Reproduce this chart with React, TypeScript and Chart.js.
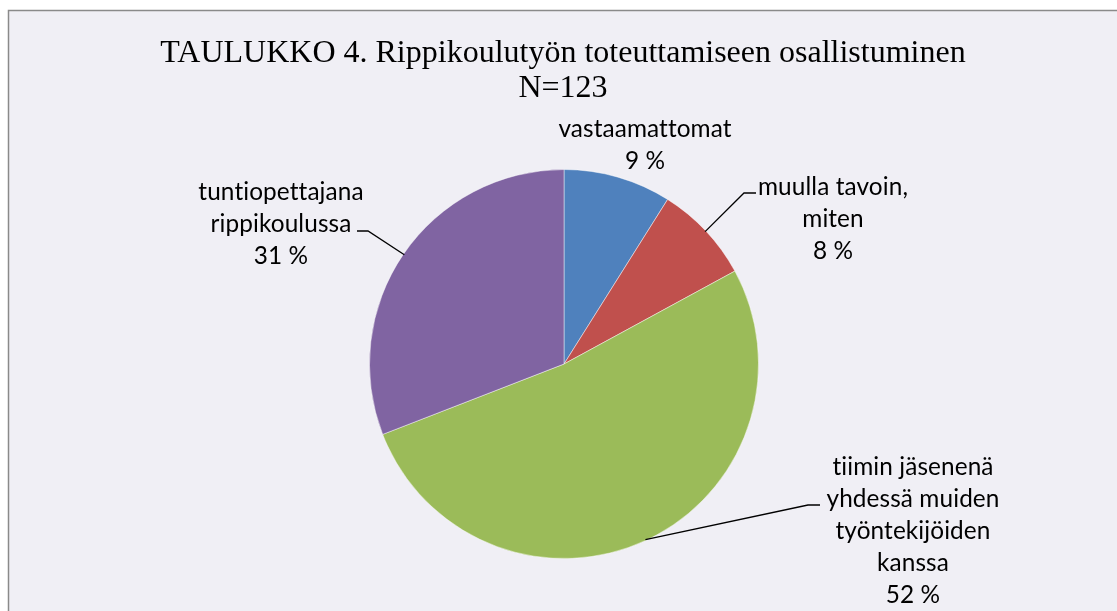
import React, { useEffect, useRef } from "react";
import { Chart, registerables } from "chart.js";

Chart.register(...registerables);

const titleLines = ["TAULUKKO 4. Rippikoulutyön toteuttamiseen osallistuminen", "N=123"];
const categories = [
  "vastaamattomat",
  "muulla tavoin, miten",
  "tiimin jäsenenä yhdessä muiden työntekijöiden kanssa",
  "tuntiopettajana rippikoulussa",
];
const counts = [11, 10, 64, 38];
const percentLabels = ["9 %", "8 %", "52 %", "31 %"];
const labelLines = [
  ["vastaamattomat"],
  ["muulla tavoin,", "miten"],
  ["tiimin jäsenenä", "yhdessä muiden", "työntekijöiden", "kanssa"],
  ["tuntiopettajana", "rippikoulussa"],
];
const colors = ["#4F81BD", "#C0504D", "#9BBB59", "#8064A2"];

// layout of the data labels (positions only)
const labelLayout = [
  { cx: 645, y0: 137, stub: null as null | number[] },
  { cx: 833, y0: 195, stub: [756, 193, 744, 193] },
  { cx: 913, y0: 475, stub: [820, 505, 808, 505] },
  { cx: 281, y0: 200, stub: [357, 231, 368, 231] },
];
const LINE_H = 32;

const W = 1117;
const H = 611;

const decorPlugin = {
  id: "decor",
  beforeDraw(chart: any) {
    const ctx = chart.ctx;
    ctx.save();
    ctx.fillStyle = "#ffffff";
    ctx.fillRect(0, 0, W, H);
    ctx.fillStyle = "#F0EFF5";
    ctx.fillRect(8, 10, W, H);
    ctx.strokeStyle = "#8a8a8a";
    ctx.lineWidth = 1.5;
    ctx.beginPath();
    ctx.moveTo(8.5, H + 5);
    ctx.lineTo(8.5, 10.5);
    ctx.lineTo(W + 5, 10.5);
    ctx.stroke();
    ctx.restore();
  },
  afterDraw(chart: any) {
    const ctx = chart.ctx;
    ctx.save();
    // title
    ctx.fillStyle = "#000000";
    ctx.textAlign = "center";
    ctx.textBaseline = "alphabetic";
    ctx.font = '32px "Liberation Serif", "Times New Roman", serif';
    ctx.fillText(titleLines[0], 563, 62);
    ctx.fillText(titleLines[1], 563, 97);

    // data labels (non-zero letter spacing switches off Lato's ligatures)
    try {
      (ctx as any).letterSpacing = "0.1px";
    } catch (e) {}
    ctx.font = '100px Lato, "Open Sans", sans-serif';
    const w100 = ctx.measureText("yhdessä muiden").width;
    const fs = (100 * 172) / w100;
    ctx.font = `${fs.toFixed(2)}px Lato, "Open Sans", sans-serif`;
    const meta = chart.getDatasetMeta(0);
    labelLayout.forEach((lay, i) => {
      const lines = [...labelLines[i], percentLabels[i]];
      ctx.fillStyle = "#000000";
      lines.forEach((ln, k) => {
        ctx.fillText(ln, lay.cx, lay.y0 + k * LINE_H);
      });
      if (lay.stub) {
        const arc = meta.data[i] as any;
        const mid = (arc.startAngle + arc.endAngle) / 2;
        const px = arc.x + Math.cos(mid) * (arc.outerRadius - 1);
        const py = arc.y + Math.sin(mid) * (arc.outerRadius - 1);
        ctx.strokeStyle = "#000000";
        ctx.lineWidth = 1.3;
        ctx.beginPath();
        ctx.moveTo(lay.stub[0], lay.stub[1]);
        ctx.lineTo(lay.stub[2], lay.stub[3]);
        ctx.lineTo(px, py);
        ctx.stroke();
      }
    });
    ctx.restore();
  },
};

export default function App() {
  const ref = useRef<HTMLCanvasElement | null>(null);
  useEffect(() => {
    if (!ref.current) return;
    const chart = new Chart(ref.current, {
      type: "pie",
      data: {
        labels: categories,
        datasets: [
          {
            data: counts,
            backgroundColor: colors,
            borderColor: "rgba(255,255,255,0.45)",
            borderWidth: 1,
          },
        ],
      },
      options: {
        responsive: false,
        animation: false,
        layout: { padding: { top: 169, bottom: 52, left: 369, right: 358 } },
        plugins: {
          legend: { display: false },
          tooltip: { enabled: false },
          title: { display: false },
        },
      },
      plugins: [decorPlugin],
    });
    return () => chart.destroy();
  }, []);
  return (
    <div style={{ position: "fixed", left: 0, top: 0, width: W, height: H, overflow: "hidden" }}>
      <canvas ref={ref} width={W} height={H} style={{ display: "block", width: W, height: H }} />
    </div>
  );
}
